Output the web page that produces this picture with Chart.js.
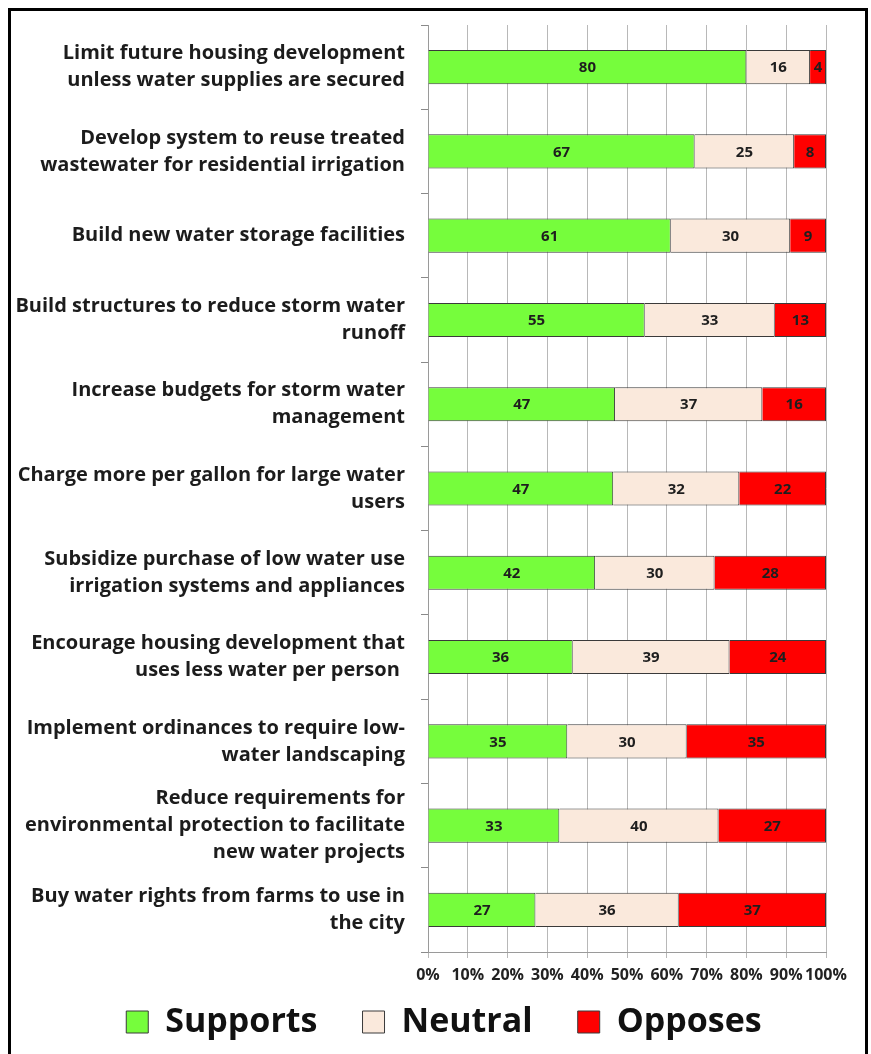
<!DOCTYPE html>
<html>
<head>
<meta charset="utf-8">
<script src="https://cdn.jsdelivr.net/npm/chart.js@4.4.0/dist/chart.umd.min.js"></script>
<style>
  html, body { margin: 0; padding: 0; background: #fff; }
  #wrap { position: relative; width: 871px; height: 1054px; overflow: hidden; }
  #frame { position: absolute; left: 8px; top: 8px; width: 854px; height: 1100px; border: 3px solid #000; pointer-events: none; }
  canvas { position: absolute; left: 0; top: 0; }
</style>
</head>
<body>
<div id="wrap">
  <canvas id="myChart" width="871" height="1054"></canvas>
  <div id="frame"></div>
</div>
<script>
const categories = [
    ['Limit future housing development', 'unless water supplies are secured'],
    ['Develop system to reuse treated', 'wastewater for residential irrigation'],
    'Build new water storage facilities',
    ['Build structures to reduce storm water', 'runoff'],
    ['Increase budgets for storm water', 'management'],
    ['Charge more per gallon for large water', 'users'],
    ['Subsidize purchase of low water use', 'irrigation systems and appliances'],
    ['Encourage housing development that', 'uses less water per person '],
    ['Implement ordinances to require low-', 'water landscaping'],
    ['Reduce requirements for', 'environmental protection to facilitate', 'new water projects'],
    ['Buy water rights from farms to use in', 'the city']
];
const supports = [80, 67, 61, 55, 47, 47, 42, 36, 35, 33, 27];
const neutral = [16, 25, 30, 33, 37, 32, 30, 39, 30, 40, 36];
const opposes = [4, 8, 9, 13, 16, 22, 28, 24, 35, 27, 37];
const seriesNames = ['Supports', 'Neutral', 'Opposes'];

const FONT = '"Open Sans", "DejaVu Sans", sans-serif';

// bars are drawn as share of the row total (100% stacked)
function share(arr) {
    return arr.map((v, i) => v / (supports[i] + neutral[i] + opposes[i]) * 100);
}

// numbers in the middle of each segment
const barLabels = {
    id: 'barLabels',
    afterDatasetsDraw(chart) {
        const ctx = chart.ctx;
        ctx.save();
        ctx.font = 'bold 15px ' + FONT;
        ctx.textAlign = 'center';
        ctx.textBaseline = 'middle';
        ctx.fillStyle = '#1e1e1e';
        chart.data.datasets.forEach((ds, di) => {
            chart.getDatasetMeta(di).data.forEach((bar, i) => {
                const c = bar.getCenterPoint();
                ctx.fillText(String(ds.counts[i]), c.x, c.y + 1);
            });
        });
        ctx.restore();
    }
};

// legend sits closer to the axis than its item padding allows
const legendShift = {
    id: 'legendShift',
    afterLayout(chart) {
        const lg = chart.legend;
        lg.top -= 28;
        lg.bottom -= 28;
        lg.left += 26;
        lg.right += 26;
    }
};

const ctx = document.getElementById('myChart').getContext('2d');
const myChart = new Chart(ctx, {
    type: 'bar',
    data: {
        labels: categories,
        datasets: [
            {
                label: seriesNames[0],
                data: share(supports),
                counts: supports,
                backgroundColor: '#76fd3c',
                borderColor: '#3a3a3a',
                borderWidth: 1
            },
            {
                label: seriesNames[1],
                data: share(neutral),
                counts: neutral,
                backgroundColor: '#fae9dc',
                borderColor: '#3a3a3a',
                borderWidth: 1
            },
            {
                label: seriesNames[2],
                data: share(opposes),
                counts: opposes,
                backgroundColor: '#ff0000',
                borderColor: '#3a3a3a',
                borderWidth: 1
            }
        ]
    },
    options: {
        indexAxis: 'y',
        responsive: false,
        animation: false,
        devicePixelRatio: 1,
        barPercentage: 0.405,
        categoryPercentage: 1,
        layout: {
            padding: { left: 10, right: 45, top: 25, bottom: -23 }
        },
        scales: {
            x: {
                stacked: true,
                min: 0,
                max: 100,
                afterFit: s => { s.height = 36; },
                ticks: {
                    stepSize: 10,
                    autoSkip: false,
                    maxRotation: 0,
                    padding: 8,
                    color: '#222',
                    font: { family: FONT, size: 16, weight: 'bold' },
                    callback: v => v + '%'
                },
                grid: {
                    color: '#b8b8b8',
                    lineWidth: 1,
                    tickLength: 6
                },
                border: { color: '#9a9a9a' }
            },
            y: {
                stacked: true,
                afterFit: s => {
                    s.width = 418;
                    s.paddingTop = 0;
                    s.paddingBottom = 0;
                },
                ticks: {
                    autoSkip: false,
                    padding: 16,
                    color: '#1c1c1c',
                    font: { family: FONT, size: 20, weight: 'bold', lineHeight: 1.35 }
                },
                grid: {
                    drawOnChartArea: false,
                    offset: true,
                    tickLength: 7,
                    color: '#8a8a8a'
                },
                border: { color: '#9a9a9a' }
            }
        },
        plugins: {
            legend: {
                position: 'bottom',
                labels: {
                    boxWidth: 22,
                    boxHeight: 22,
                    padding: 45,
                    color: '#111',
                    font: { family: FONT, size: 34, weight: 'bold' }
                }
            },
            tooltip: { enabled: false }
        }
    },
    plugins: [barLabels, legendShift]
});
</script>
</body>
</html>
